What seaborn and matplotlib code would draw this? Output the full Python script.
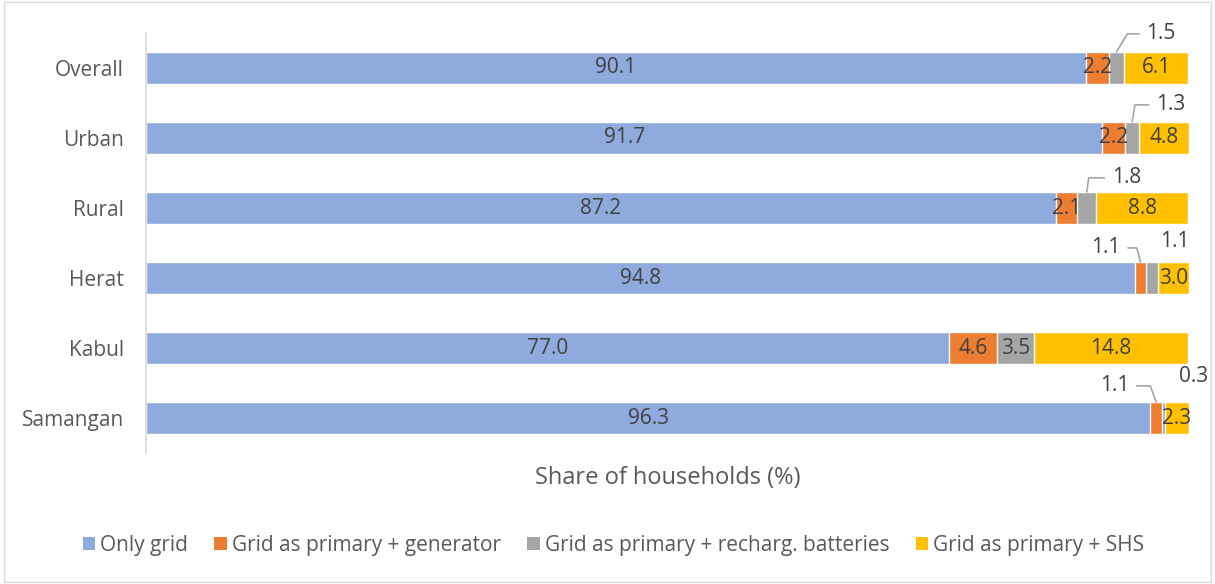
import numpy as np
import pandas as pd
import matplotlib.pyplot as plt
import seaborn as sns
from matplotlib.patches import Patch, Rectangle

# Data (share of households, %)
regions = ['Overall', 'Urban', 'Rural', 'Herat', 'Kabul', 'Samangan']
only_grid = [90.1, 91.7, 87.2, 94.8, 77.0, 96.3]
grid_generator = [2.2, 2.2, 2.1, 1.1, 4.6, 1.1]
grid_batteries = [1.5, 1.3, 1.8, 1.1, 3.5, 0.3]
grid_shs = [6.1, 4.8, 8.8, 3.0, 14.8, 2.3]

series_names = ['Only grid', 'Grid as primary + generator',
                'Grid as primary + recharg. batteries', 'Grid as primary + SHS']
colors = ['#8FAADC', '#ED7D31', '#A5A5A5', '#FFC000']

# small segments labelled outside with (optional) leader lines:
# (region, series index, dx px, dy px, ha, leader angle or None)
callouts = [
    ('Overall', 2, 30, 18, 'left', 59),
    ('Urban', 2, 24, 17, 'left', 81),
    ('Rural', 2, 25, 14, 'left', 82),
    ('Herat', 1, -20, 14, 'right', 105),
    ('Herat', 2, 23, 20, 'center', None),
    ('Samangan', 1, -27, 16, 'right', 110),
    ('Samangan', 2, 30, 25, 'center', None),
]

df = pd.DataFrame({'region': regions, series_names[0]: only_grid,
                   series_names[1]: grid_generator, series_names[2]: grid_batteries,
                   series_names[3]: grid_shs})
values = df[series_names].to_numpy()
cum = values.cumsum(axis=1)

sns.set_theme(style='white')
plt.rcParams['font.family'] = ['Open Sans', 'DejaVu Sans']
text_col = '#595959'
label_col = '#404040'
fs = 15
bar_h = 0.46

fig, ax = plt.subplots(figsize=(12.15, 5.84), dpi=100)
fig.subplots_adjust(left=0.1202, right=0.9786, bottom=0.2243, top=0.9435)

# stacked bars by overlaying cumulative totals, widest first
for k in range(len(series_names) - 1, -1, -1):
    sns.barplot(x=cum[:, k], y=regions, color=colors[k], orient='h',
                width=bar_h, edgecolor='white', linewidth=1, saturation=1, ax=ax)

ax.set_xlim(0, 100)
ax.set_ylim(len(regions) - 0.5, -0.5)
ax.set_xticks([])
ax.set_ylabel('')
ax.set_xlabel('Share of households (%)', fontsize=17, color=text_col, labelpad=9)
ax.tick_params(axis='y', length=0, labelsize=fs, labelcolor=text_col, pad=16)
for side in ['top', 'right', 'bottom']:
    ax.spines[side].set_visible(False)
ax.spines['left'].set_color('#D9D9D9')
ax.spines['left'].set_linewidth(1.2)

outside = {(r, s) for r, s, *_ in callouts}
for i, reg in enumerate(regions):
    for k in range(len(series_names)):
        if (reg, k) in outside:
            continue
        xc = cum[i, k] - values[i, k] / 2
        ax.text(xc, i, f'{values[i, k]:.1f}', ha='center', va='center',
                fontsize=fs, color=label_col)

for reg, k, dx, dy, ha, ang in callouts:
    i = regions.index(reg)
    xc = cum[i, k] - values[i, k] / 2
    arrow = None
    if ang is not None:
        arrow = dict(arrowstyle='-', color='#A5A5A5', lw=1.2, shrinkA=3, shrinkB=0,
                     relpos=(0, 0.5) if ha == 'left' else (1, 0.5),
                     connectionstyle=f'angle,angleA=0,angleB={ang},rad=0')
    ax.annotate(f'{values[i, k]:.1f}', xy=(xc, i - bar_h / 2), xytext=(dx, dy),
                textcoords='offset pixels', ha=ha, va='center', fontsize=fs,
                color=label_col, arrowprops=arrow)

handles = [Patch(facecolor=c, edgecolor='none') for c in colors]
fig.legend(handles, series_names, loc='center', bbox_to_anchor=(0.505, 0.066), ncol=4,
           frameon=False, fontsize=fs, labelcolor=text_col, handlelength=0.6,
           handleheight=0.6, handletextpad=0.25, columnspacing=1.25)

fig.patches.append(Rectangle((0.003, 0.004), 0.994, 0.992, transform=fig.transFigure,
                             fill=False, edgecolor='#D9D9D9', linewidth=1))

plt.savefig('out.png', dpi=100)
